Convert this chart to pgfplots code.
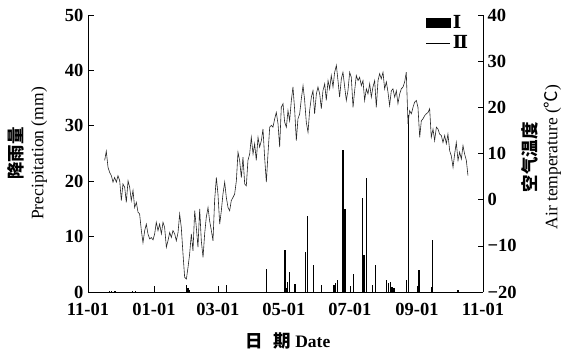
\documentclass[border=0pt]{standalone}
\usepackage{pgfplots}
\pgfplotsset{compat=1.18}
\usepackage{pgfplotstable}
\usepackage{fontspec}
\setmainfont{Liberation Serif}
\newfontfamily\cjk{Noto Sans CJK SC}
\newfontfamily\dvs{DejaVu Serif}

\pgfplotstableread{
day P
20 0.2
22 0.2
25 0.2
41 0.2
44 0.2
90.9 1.2
92.4 0.7
93.9 0.4
127.8 1.2
165.1 4.2
182.0 7.5
183.0 0.8
184.5 1.8
186.0 3.6
191.3 1.5
201.1 7.2
203.0 13.8
208.2 4.8
216.0 1.3
227.3 1.3
228.9 1.6
230.7 2.1
235.6 25.6
236.8 6.6
237.5 14.9
245.5 3.2
253.8 16.9
255.0 6.6
257.5 20.6
263.0 1.3
265.8 4.8
276.0 2.1
278.0 1.6
279.3 1.8
280.9 0.9
282.7 0.7
294.5 2.1
296.3 32.0
305.9 3.9
317.2 0.9
318.2 9.3
341.9 0.3
}\precip

\pgfplotstableread{
day T
15.4 8.5
16.9 10.5
18.5 7.0
20.0 5.9
21.6 5.2
23.1 3.8
24.6 4.8
26.2 3.8
27.7 5.2
29.3 4.1
30.8 -0.2
32.3 3.4
33.9 2.7
35.4 -0.6
37.0 4.1
38.5 2.7
40.0 -0.2
41.6 2.0
43.1 -1.7
44.7 -0.6
46.2 -2.7
47.7 -3.1
49.3 -6.7
50.8 -9.3
52.4 -6.7
53.9 -5.3
55.4 -7.4
57.0 -8.5
58.5 -8.2
60.1 -8.7
61.6 -7.4
63.1 -4.9
64.7 -6.7
66.2 -5.3
67.8 -7.4
69.3 -4.9
70.8 -6.0
72.4 -10.3
73.9 -8.9
75.5 -7.1
77.0 -8.2
78.5 -6.7
80.1 -7.4
81.6 -8.9
83.2 -7.1
84.7 -3.1
86.2 -6.0
87.8 -11.8
89.3 -16.8
90.9 -17.2
92.4 -14.7
93.9 -11.8
95.5 -7.4
97.0 -11.1
98.6 -2.4
100.1 -6.0
101.6 -10.3
103.2 -2.0
104.7 -8.9
106.3 -12.5
107.8 -7.4
109.3 -3.8
110.9 -1.7
112.4 -4.6
114.0 -6.7
115.5 -8.9
117.0 -0.2
118.6 4.8
120.1 1.2
121.7 -5.3
123.2 -2.4
124.7 1.2
126.3 3.8
127.8 0.5
129.4 -1.7
130.9 -2.4
132.4 -0.2
134.0 0.5
135.5 1.2
137.1 4.1
138.6 10.3
140.1 8.5
141.7 4.8
143.2 9.2
144.8 3.4
146.3 3.0
147.8 8.5
149.4 9.9
150.9 13.5
152.5 9.9
154.0 12.1
155.5 8.5
157.1 13.5
158.6 11.4
160.2 12.8
161.7 15.3
163.2 9.2
164.8 3.8
166.3 9.9
167.9 15.7
169.4 16.1
170.9 15.7
172.5 17.5
174.0 18.9
175.6 16.4
177.1 11.4
178.6 20.0
180.2 20.8
181.7 16.8
183.3 15.7
184.8 19.3
186.3 17.1
187.9 21.5
189.4 24.4
191.0 19.3
192.5 12.8
194.0 17.5
195.6 18.6
197.1 21.8
198.7 24.7
200.2 21.5
201.7 16.8
203.3 14.6
204.8 19.3
206.4 22.2
207.9 23.6
209.4 18.6
211.0 22.9
212.5 24.4
214.1 22.9
215.6 19.7
217.1 23.6
218.7 25.1
220.2 21.5
221.8 25.8
223.3 24.0
224.8 26.9
226.4 24.4
227.9 27.6
229.5 29.1
231.0 25.8
232.5 22.2
234.1 26.2
235.6 27.6
237.2 24.4
238.7 21.5
240.2 23.6
241.8 27.6
243.3 26.5
244.9 20.0
246.4 23.6
247.9 26.9
249.5 25.8
251.0 26.5
252.6 24.7
254.1 25.8
255.6 21.5
257.2 24.0
258.7 22.9
260.3 25.1
261.8 22.2
263.3 24.4
264.9 25.8
266.4 20.0
268.0 25.8
269.5 27.3
271.0 26.2
272.6 27.6
274.1 24.0
275.7 25.5
277.2 23.3
278.7 20.4
280.3 23.6
281.8 24.0
283.4 22.2
284.9 23.6
286.4 20.8
288.0 22.9
289.5 24.0
291.1 24.4
292.6 25.5
294.1 27.6
295.7 16.4
297.2 19.3
298.8 18.6
300.3 20.0
301.8 21.1
303.4 21.5
304.9 20.0
306.5 13.5
308.0 17.1
309.5 17.5
311.1 18.2
312.6 18.6
314.2 18.9
315.7 19.7
317.2 13.5
318.8 15.3
320.3 12.8
321.9 15.7
323.4 15.3
324.9 14.2
326.5 13.9
328.0 12.4
329.6 13.9
331.1 12.1
332.6 14.2
334.2 10.6
335.7 9.5
337.3 7.0
338.8 9.9
340.3 12.4
341.9 8.5
343.4 10.3
345.0 8.8
346.5 11.7
348.0 9.9
349.6 8.5
351.1 5.2
}\temp

\begin{document}
\begin{tikzpicture}
\useasboundingbox (0,0) rectangle (573bp,353bp);
\pgfplotsset{
  every axis/.append style={
    at={(88bp,61bp)}, anchor=south west,
    scale only axis, width=395bp, height=277bp,
    xmin=0, xmax=365,
    tick align=inside, major tick length=5.5bp,
    tick style={black, line width=0.6pt},
    axis line style={black, line width=0.8pt},
    tick label style={font=\fontsize{18.5bp}{20bp}\selectfont\bfseries},
    label style={font=\fontsize{17.5bp}{21bp}\selectfont},
    /pgf/number format/assume math mode=true,
  }
}
\begin{axis}[
  axis x line*=bottom, axis y line*=left,
  ymin=0, ymax=50, ytick={0,10,20,30,40,50},
  xtick={0,61,120,181,242,304,365},
  xticklabels={11-01,01-01,03-01,05-01,07-01,09-01,11-01},
  xticklabel style={yshift=-8bp},
  yticklabel style={xshift=-1bp},
  xlabel={{\cjk\bfseries 日\hspace{0.6em}期} \textbf{Date}},
  xlabel style={at={(axis description cs:0.506,-0.175)}, anchor=center},
  ylabel={{\cjk\bfseries 降雨量}\\Precipitation (mm)},
  ylabel style={at={(axis description cs:-0.154,0.5)}, anchor=center, align=center},
]
\addplot[ycomb, black, line width=1.2pt] table[x=day, y=P] {\precip};
\end{axis}
\begin{axis}[
  axis x line=none, axis y line*=right,
  ymin=-20, ymax=40, ytick={-20,-10,0,10,20,30,40},
  yticklabels={−20,−10,0,10,20,30,40},
  yticklabel style={xshift=1bp},
  ylabel={{\cjk\bfseries 空气温度}\\Air temperature ({\cjk ℃})},
  ylabel style={at={(axis description cs:1.147,0.487)}, anchor=center, align=center},
  legend style={draw=none, fill=none, at={(axis description cs:0.975,1.015)}, anchor=north east,
    font=\fontsize{18bp}{19bp}\selectfont\bfseries, row sep=2bp,
    /tikz/every even column/.append style={column sep=6bp}},
  legend cell align=left,
]
\addlegendimage{legend image code/.code={\fill[black] (0bp,-4.5bp) rectangle (24bp,4.5bp);}}
\addlegendentry{{\dvs\bfseries Ⅰ}}
\addplot[black!85, line width=0.6pt, legend image code/.code={\draw[black, line width=0.6pt] (0bp,0bp) -- (24bp,0bp);}] table[x=day, y=T] {\temp};
\addlegendentry{{\dvs\bfseries Ⅱ}}
\end{axis}
\end{tikzpicture}
\end{document}
